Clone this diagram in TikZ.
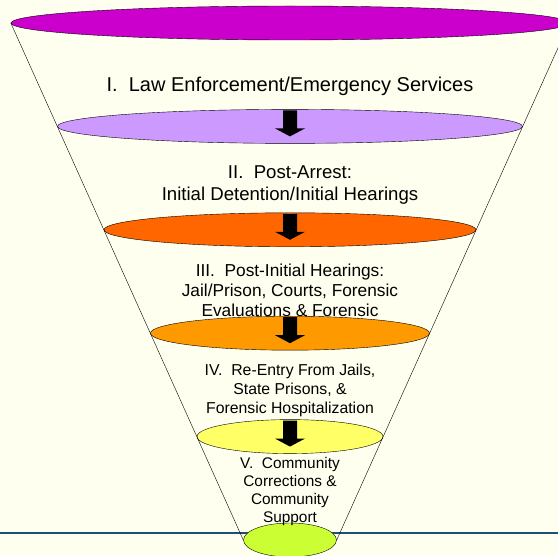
\documentclass[tikz,border=0pt]{standalone}
\usepackage{fontspec}
\setmainfont{Liberation Sans}
\usetikzlibrary{shapes.geometric}
\definecolor{paper}{RGB}{255,255,240}
\definecolor{floorline}{RGB}{31,78,121}
\definecolor{stagea}{HTML}{CC00CC}
\definecolor{stageb}{HTML}{CC99FF}
\definecolor{stagec}{HTML}{FF6600}
\definecolor{staged}{HTML}{FF9900}
\definecolor{stagee}{HTML}{FFFF66}
\definecolor{stagef}{HTML}{CCFF33}
\tikzset{>=latex,
    disc/.style={ellipse, draw=black, inner sep=0pt, minimum height=34pt},
    stagetext/.style={align=center, text=black, inner sep=0pt}}

\begin{document}
\begin{tikzpicture}[x=1pt, y=-1pt]
            \fill[paper] (0, 0) rectangle (558, 556);
            \useasboundingbox (0, 0) rectangle (558, 556);
            \clip (0, 0) rectangle (558, 556);
            \coordinate (floorL) at (0, 533);
            \coordinate (floorR) at (558, 533);
            \draw[floorline, line width=2pt] (floorL) -- (floorR);
            \foreach \k/\c in {0/stagea, 1/stageb, 2/stagec, 3/staged, 4/stagee, 5/stagef} {
                \pgfmathsetmacro\yy{23 + 103.4*\k}
                \pgfmathsetmacro\ww{2*(279 - 46.5*\k)}
                \node[disc, fill=\c, minimum width=\ww pt] (e\k) at (290, \yy) {};
            }
            \draw (e0.west) -- (e5.west);
            \draw (e0.east) -- (e5.east);
            \foreach \k in {1,..., 4} {
                \pgfmathsetmacro\yy{23 + 103.4*\k}
                \fill[black] (283, \yy-16) -- (297, \yy-16) -- (297, \yy+2) -- (305, \yy+2)
                    -- (290, \yy+10) -- (275, \yy+2) -- (283, \yy+2) -- cycle;
            }
            \node[stagetext, font=\fontsize{20}{23}\selectfont] (t1) at (290, 86)
                {I.\ \ Law Enforcement/Emergency Services};
            \node[stagetext, font=\fontsize{18.6}{22}\selectfont] (t2) at (290, 185)
                {II.\ \ Post-Arrest:\\Initial Detention/Initial Hearings};
            \node[stagetext, font=\fontsize{17.3}{20}\selectfont] (t3) at (290, 290)
                {III.\ \ Post-Initial Hearings:\\Jail/Prison, Courts, Forensic\\Evaluations \& Forensic};
            \node[stagetext, font=\fontsize{15.8}{19}\selectfont] (t4) at (290, 390)
                {IV.\ \ Re-Entry From Jails,\\State Prisons, \&\\Forensic Hospitalization};
            \node[stagetext, font=\fontsize{15.4}{18}\selectfont] (t5) at (290, 492)
                {V.\ \ Community\\Corrections \&\\Community\\Support};
        \end{tikzpicture}
\end{document}
